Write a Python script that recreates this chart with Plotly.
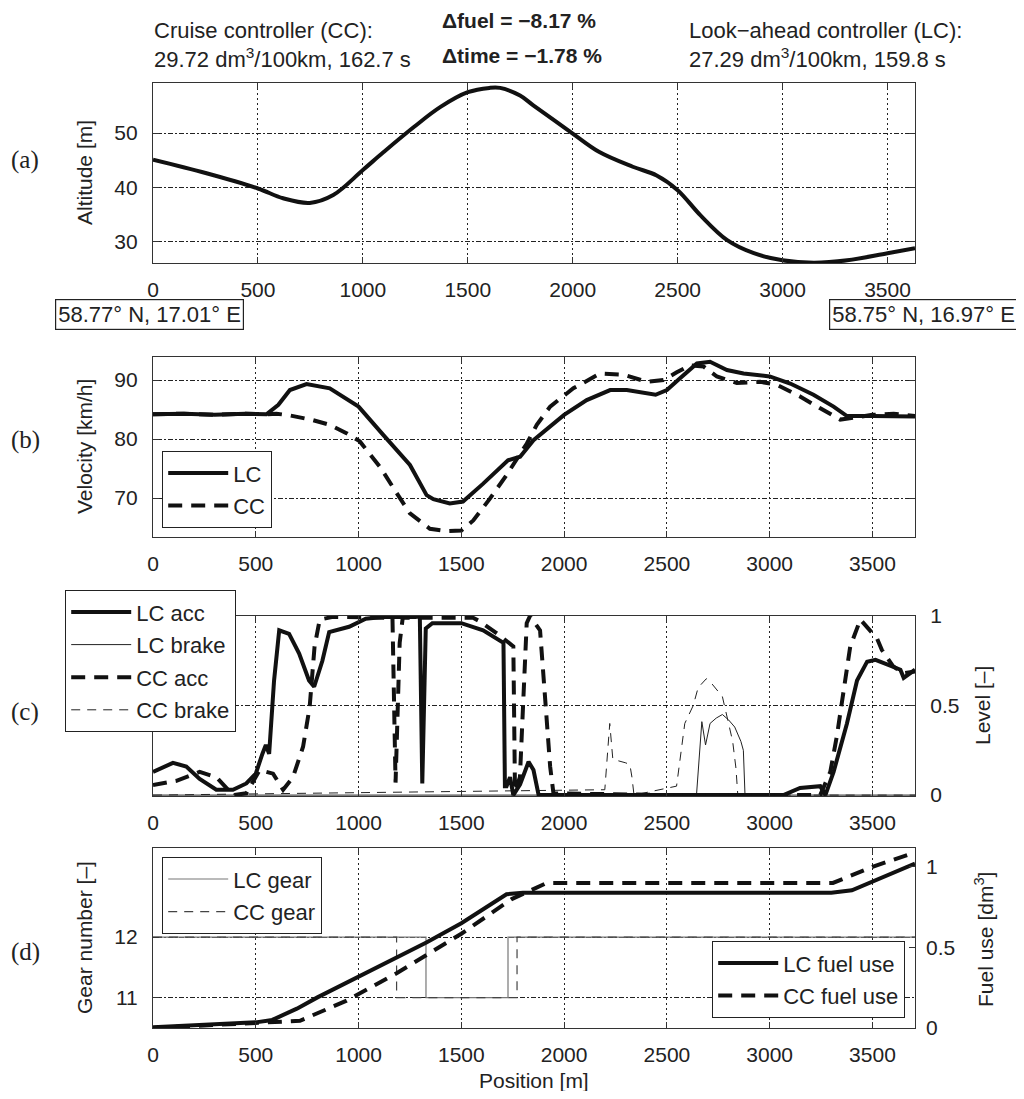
import plotly.graph_objects as go

# The page body has an 8px margin, so the figure is sized to fit the 1024x1099 window exactly.
OFF = 8
W, H = 1024 - 2 * OFF, 1099 - 2 * OFF
def PX(p): return (p - OFF) / W
def PY(p): return 1 - (p - OFF) / H

# ---------------- data ----------------
alt_pos = [0, 255, 500, 620, 747, 859, 1000, 1099, 1243, 1370, 1500, 1603, 1654, 1749, 1812, 2000,
           2127, 2286, 2400, 2500, 2608, 2736, 2863, 3000, 3149, 3308, 3500, 3631]
alt_val = [45.1, 42.6, 39.8, 38.0, 37.15, 38.6, 43.2, 46.5, 51.1, 54.8, 57.5, 58.3, 58.3, 56.9, 55.1, 49.9,
           46.5, 43.8, 42.2, 39.5, 34.9, 30.3, 27.9, 26.6, 26.15, 26.6, 27.9, 28.8]

vel_lc_pos = [0, 150, 300, 450, 552, 610, 666, 747, 860, 1000, 1120, 1250, 1331, 1364, 1444, 1508, 1605,
              1688, 1727, 1786, 1851, 2000, 2110, 2224, 2305, 2445, 2500, 2564, 2646, 2710, 2792, 2873,
              3000, 3100, 3213, 3311, 3376, 3500, 3707]
vel_lc_val = [84.2, 84.3, 84.1, 84.3, 84.2, 85.8, 88.3, 89.3, 88.6, 85.5, 80.7, 75.6, 70.5, 69.8, 69.1, 69.4, 72.4,
              75.0, 76.4, 77.0, 79.8, 84.1, 86.6, 88.3, 88.3, 87.5, 88.3, 90.3, 92.8, 93.1, 91.7, 91.1,
              90.6, 89.4, 87.5, 85.5, 83.9, 83.9, 83.8]

vel_cc_pos = [0, 150, 300, 450, 552, 600, 666, 779, 860, 941, 1006, 1104, 1177, 1250, 1347, 1428, 1500, 1558,
              1639, 1720, 1818, 1867, 1932, 2045, 2175, 2289, 2402, 2483, 2548, 2613, 2678, 2743, 2840,
              2954, 3035, 3148, 3246, 3343, 3408, 3500, 3603, 3707]
vel_cc_val = [84.2, 84.3, 84.1, 84.3, 84.2, 84.3, 84.0, 83.2, 82.4, 81.0, 79.6, 75.3, 71.3, 67.4, 64.8, 64.4, 64.5, 66.2,
              69.9, 73.9, 79.2, 82.4, 85.5, 88.6, 91.1, 90.9, 89.7, 90.0, 91.3, 92.5, 92.3, 90.6, 89.5,
              89.7, 89.2, 87.2, 85.2, 83.3, 83.6, 84.1, 84.3, 83.9]

lc_acc_pos = [0, 97, 162, 227, 308, 389, 454, 500, 532, 549, 565, 589, 614, 662, 711, 759, 784, 824, 857,
              954, 1035, 1116, 1278, 1298, 1310, 1327, 1359, 1500, 1606, 1705, 1712, 1720, 1737, 1753, 1786,
              1827, 1851, 1876, 2500, 3067, 3148, 3246, 3271, 3311, 3376, 3425, 3474, 3515, 3571, 3636,
              3652, 3707]
lc_acc_val = [0.13, 0.18, 0.16, 0.09, 0.03, 0.03, 0.065, 0.12, 0.23, 0.28, 0.23, 0.64, 0.92, 0.90, 0.79, 0.64, 0.605,
              0.75, 0.91, 0.94, 0.985, 0.995, 0.995, 1.0, 0.065, 0.93, 0.96, 0.96, 0.92, 0.85, 0.05, 0.05, 0.1,
              0.0, 0.06, 0.186, 0.14, 0.0, 0.0, 0.0, 0.04, 0.05, 0.0, 0.13, 0.40, 0.64, 0.745, 0.755, 0.73,
              0.70, 0.655, 0.70]

cc_acc_pos = [0, 114, 227, 308, 389, 454, 519, 584, 633, 681, 730, 762, 786, 811, 876, 1165, 1180, 1200,
              1215, 1557, 1590, 1688, 1753, 1761, 1785, 1818, 1834, 1883, 1907, 1932, 1948, 2500, 3246, 3295,
              3327, 3360, 3392, 3441, 3474, 3522, 3546, 3600, 3650, 3707]
cc_acc_val = [0.056, 0.08, 0.13, 0.10, 0.0, 0.01, 0.14, 0.12, 0.03, 0.10, 0.27, 0.49, 0.83, 0.98, 0.995, 0.99, 0.07,
              0.85, 0.99, 0.99, 0.97, 0.89, 0.83, 0.02, 0.1, 0.96, 1.0, 0.92, 0.55, 0.16, 0.01, 0.0, 0.0, 0.13,
              0.33, 0.60, 0.83, 0.98, 0.94, 0.875, 0.81, 0.72, 0.68, 0.69]

lc_brk_pos = [0, 2644, 2670, 2688, 2710, 2740, 2770, 2800, 2830, 2860, 2872, 2880, 3707]
lc_brk_val = [0.0, 0.0, 0.41, 0.28, 0.40, 0.43, 0.45, 0.42, 0.38, 0.30, 0.25, 0.0, 0.0]

cc_brk_pos = [0, 2198, 2222, 2237, 2300, 2320, 2330, 2340, 2547, 2587, 2628, 2652, 2692, 2720, 2770,
              2820, 2836, 2845, 3707]
cc_brk_val = [0.0, 0.03, 0.40, 0.20, 0.18, 0.17, 0.10, 0.0, 0.05, 0.40, 0.50, 0.60, 0.65, 0.62, 0.55,
              0.30, 0.15, 0.0, 0.0]

lc_gear_pos = [0, 1328, 1328, 1727, 1727, 3707]
lc_gear_val = [12, 12, 11, 11, 12, 12]
cc_gear_pos = [0, 1185, 1185, 1771, 1771, 3707]
cc_gear_val = [12, 12, 11, 11, 12, 12]

lc_fuel_pos = [0, 300, 500, 580, 700, 800, 1000, 1200, 1330, 1500, 1720, 1800, 2500, 3300, 3400, 3500, 3707]
lc_fuel_val = [0.005, 0.02, 0.035, 0.05, 0.12, 0.19, 0.32, 0.45, 0.53, 0.65, 0.83, 0.84, 0.84, 0.84, 0.855, 0.91, 1.02]
cc_fuel_pos = [0, 300, 600, 715, 942, 1185, 1500, 1688, 1745, 1915, 2500, 3308, 3500, 3707]
cc_fuel_val = [0.0, 0.02, 0.04, 0.045, 0.17, 0.34, 0.585, 0.75, 0.80, 0.90, 0.90, 0.90, 1.0, 1.09]

x_ticks = [0, 500, 1000, 1500, 2000, 2500, 3000, 3500]

# ---------------- figure ----------------
FONT = "Liberation Sans, Arial, sans-serif"
TXT = "#222222"
fig = go.Figure()

thick = 4
fig.add_trace(go.Scatter(x=alt_pos, y=alt_val, mode="lines", line=dict(color="#111", width=thick, shape="spline"),
                         showlegend=False, xaxis="x", yaxis="y"))

fig.add_trace(go.Scatter(x=vel_lc_pos, y=vel_lc_val, mode="lines", name="LC", legend="legend", legendgroup="b1",
                         line=dict(color="#111", width=thick), xaxis="x2", yaxis="y2"))
fig.add_trace(go.Scatter(x=vel_cc_pos, y=vel_cc_val, mode="lines", name="CC", legend="legend", legendgroup="b2",
                         line=dict(color="#111", width=thick, dash="14px,9px"), xaxis="x2", yaxis="y2"))

fig.add_trace(go.Scatter(x=lc_brk_pos, y=lc_brk_val, mode="lines", name="LC brake", legend="legend2", legendgroup="c2",
                         legendrank=2, line=dict(color="#222", width=1), xaxis="x3", yaxis="y3"))
fig.add_trace(go.Scatter(x=cc_brk_pos, y=cc_brk_val, mode="lines", name="CC brake", legend="legend2", legendgroup="c4",
                         legendrank=4, line=dict(color="#222", width=1, dash="9px,7px"), xaxis="x3", yaxis="y3"))
fig.add_trace(go.Scatter(x=lc_acc_pos, y=lc_acc_val, mode="lines", name="LC acc", legend="legend2", legendgroup="c1",
                         legendrank=1, line=dict(color="#111", width=thick), xaxis="x3", yaxis="y3"))
fig.add_trace(go.Scatter(x=cc_acc_pos, y=cc_acc_val, mode="lines", name="CC acc", legend="legend2", legendgroup="c3",
                         legendrank=3, line=dict(color="#111", width=thick, dash="14px,9px"), xaxis="x3", yaxis="y3"))

fig.add_trace(go.Scatter(x=lc_gear_pos, y=lc_gear_val, mode="lines", name="LC gear", legend="legend3", legendgroup="d1",
                         line=dict(color="#777", width=1.2), xaxis="x4", yaxis="y4"))
fig.add_trace(go.Scatter(x=cc_gear_pos, y=cc_gear_val, mode="lines", name="CC gear", legend="legend3", legendgroup="d2",
                         line=dict(color="#444", width=1.2, dash="9px,7px"), xaxis="x4", yaxis="y4"))
fig.add_trace(go.Scatter(x=lc_fuel_pos, y=lc_fuel_val, mode="lines", name="LC fuel use", legend="legend4", legendgroup="d3",
                         line=dict(color="#111", width=thick), xaxis="x4", yaxis="y5"))
fig.add_trace(go.Scatter(x=cc_fuel_pos, y=cc_fuel_val, mode="lines", name="CC fuel use", legend="legend4", legendgroup="d4",
                         line=dict(color="#111", width=thick, dash="14px,9px"), xaxis="x4", yaxis="y5"))

xdom = [PX(153), PX(915)]
def xax(rng, anchor):
    return dict(domain=xdom, range=rng, anchor=anchor, tickvals=x_ticks, ticks="inside", ticklen=6,
                tickcolor="#333", showline=True, linecolor="#333", linewidth=1.2, mirror="ticks",
                showgrid=True, gridcolor="#222", gridwidth=1, griddash="2px,3px", zeroline=False,
                tickfont=dict(family=FONT, size=21, color=TXT), ticklabelstandoff=8, fixedrange=True,
                automargin=False)

def yax(rng, dom, tv, anchor, side="left", mirror="ticks", grid=True):
    return dict(domain=dom, range=rng, anchor=anchor, side=side, tickvals=tv, ticks="inside", ticklen=6,
                tickcolor="#333", showline=True, linecolor="#333", linewidth=1.2, mirror=mirror,
                showgrid=grid, gridcolor="#222", gridwidth=1, griddash="2px,2px,5px,2px", zeroline=False,
                tickfont=dict(family=FONT, size=21, color=TXT), ticklabelstandoff=10, fixedrange=True,
                automargin=False)

dom_a = [PY(263), PY(83)]
dom_b = [PY(537), PY(357)]
dom_c = [PY(796), PY(616)]
dom_d = [PY(1028), PY(848)]

legend_common = dict(bordercolor="#222", borderwidth=1.2, bgcolor="white",
                     font=dict(family=FONT, size=22, color=TXT), traceorder="grouped",
                     tracegroupgap=1, itemwidth=60)

fig.update_layout(
    width=W, height=H, autosize=False,
    margin=dict(l=0, r=0, t=0, b=0, pad=0, autoexpand=False),
    paper_bgcolor="white", plot_bgcolor="white",
    xaxis=xax([0, 3631], "y"),
    yaxis=yax([26.1, 59.2], dom_a, [30, 40, 50], "x"),
    xaxis2=xax([0, 3707], "y2"),
    yaxis2=yax([63.4, 93.9], dom_b, [70, 80, 90], "x2"),
    xaxis3=xax([0, 3707], "y3"),
    yaxis3=yax([-0.005, 1.0], dom_c, [0, 0.5, 1], "x3", side="right"),
    xaxis4=xax([0, 3707], "y4"),
    yaxis4=yax([10.5, 13.47], dom_d, [11, 12], "x4", mirror=True),
    yaxis5=dict(range=[0, 1.117], overlaying="y4", anchor="x4", side="right", tickvals=[0, 0.5, 1],
                ticks="inside", ticklen=6, tickcolor="#333", showgrid=False, zeroline=False, showline=False,
                tickfont=dict(family=FONT, size=21, color=TXT), ticklabelstandoff=10, fixedrange=True,
                automargin=False),
    legend=dict(x=PX(162), y=PY(528), xanchor="left", yanchor="bottom", **legend_common),
    legend2=dict(x=PX(65), y=PY(590), xanchor="left", yanchor="top", **legend_common),
    legend3=dict(x=PX(162), y=PY(857), xanchor="left", yanchor="top", **legend_common),
    legend4=dict(x=PX(905), y=PY(1018), xanchor="right", yanchor="bottom", **legend_common),
)

ann = []
def text(x, y, s, size=17, xanchor="left", bold=False, angle=0, family=FONT, **kw):
    ann.append(dict(x=PX(x), y=PY(y), xref="paper", yref="paper", text=("<b>%s</b>" % s) if bold else s,
                    showarrow=False, xanchor=xanchor, yanchor="middle", textangle=angle,
                    font=dict(family=family, size=size, color=TXT), **kw))

text(152, 30, "Cruise controller (CC):", size=22)
text(152, 58, "29.72 dm<sup>3</sup>/100km, 162.7 s", size=22)
text(440, 21, "Δfuel = −8.17 %", size=21, bold=True)
text(440, 55, "Δtime = −1.78 %", size=21, bold=True)
text(687, 30, "Look−ahead controller (LC):", size=22)
text(687, 58, "27.29 dm<sup>3</sup>/100km, 159.8 s", size=22)

SERIF = "Liberation Serif, Times New Roman, serif"
text(25, 160, "(a)", size=25, xanchor="center", family=SERIF)
text(25, 440, "(b)", size=25, xanchor="center", family=SERIF)
text(25, 712, "(c)", size=25, xanchor="center", family=SERIF)
text(25, 952, "(d)", size=25, xanchor="center", family=SERIF)

text(84, 173, "Altitude [m]", size=21, xanchor="center", angle=-90)
text(84, 447, "Velocity [km/h]", size=21, xanchor="center", angle=-90)
text(84, 938, "Gear number [–]", size=21, xanchor="center", angle=-90)
text(982, 706, "Level [–]", size=21, xanchor="center", angle=-90)
text(984, 940, "Fuel use [dm<sup>3</sup>]", size=21, xanchor="center", angle=-90)
text(534, 1080, "Position [m]", size=21, xanchor="center")

text(55, 315, "58.77° N, 17.01° E", size=22, xanchor="left", bordercolor="#222", borderwidth=1.2,
     bgcolor="white", borderpad=2)
text(1018, 315, "58.75° N, 16.97° E", size=22, xanchor="right", bordercolor="#222", borderwidth=1.2,
     bgcolor="white", borderpad=2)

fig.update_layout(annotations=ann)
fig.write_html("out.html")
